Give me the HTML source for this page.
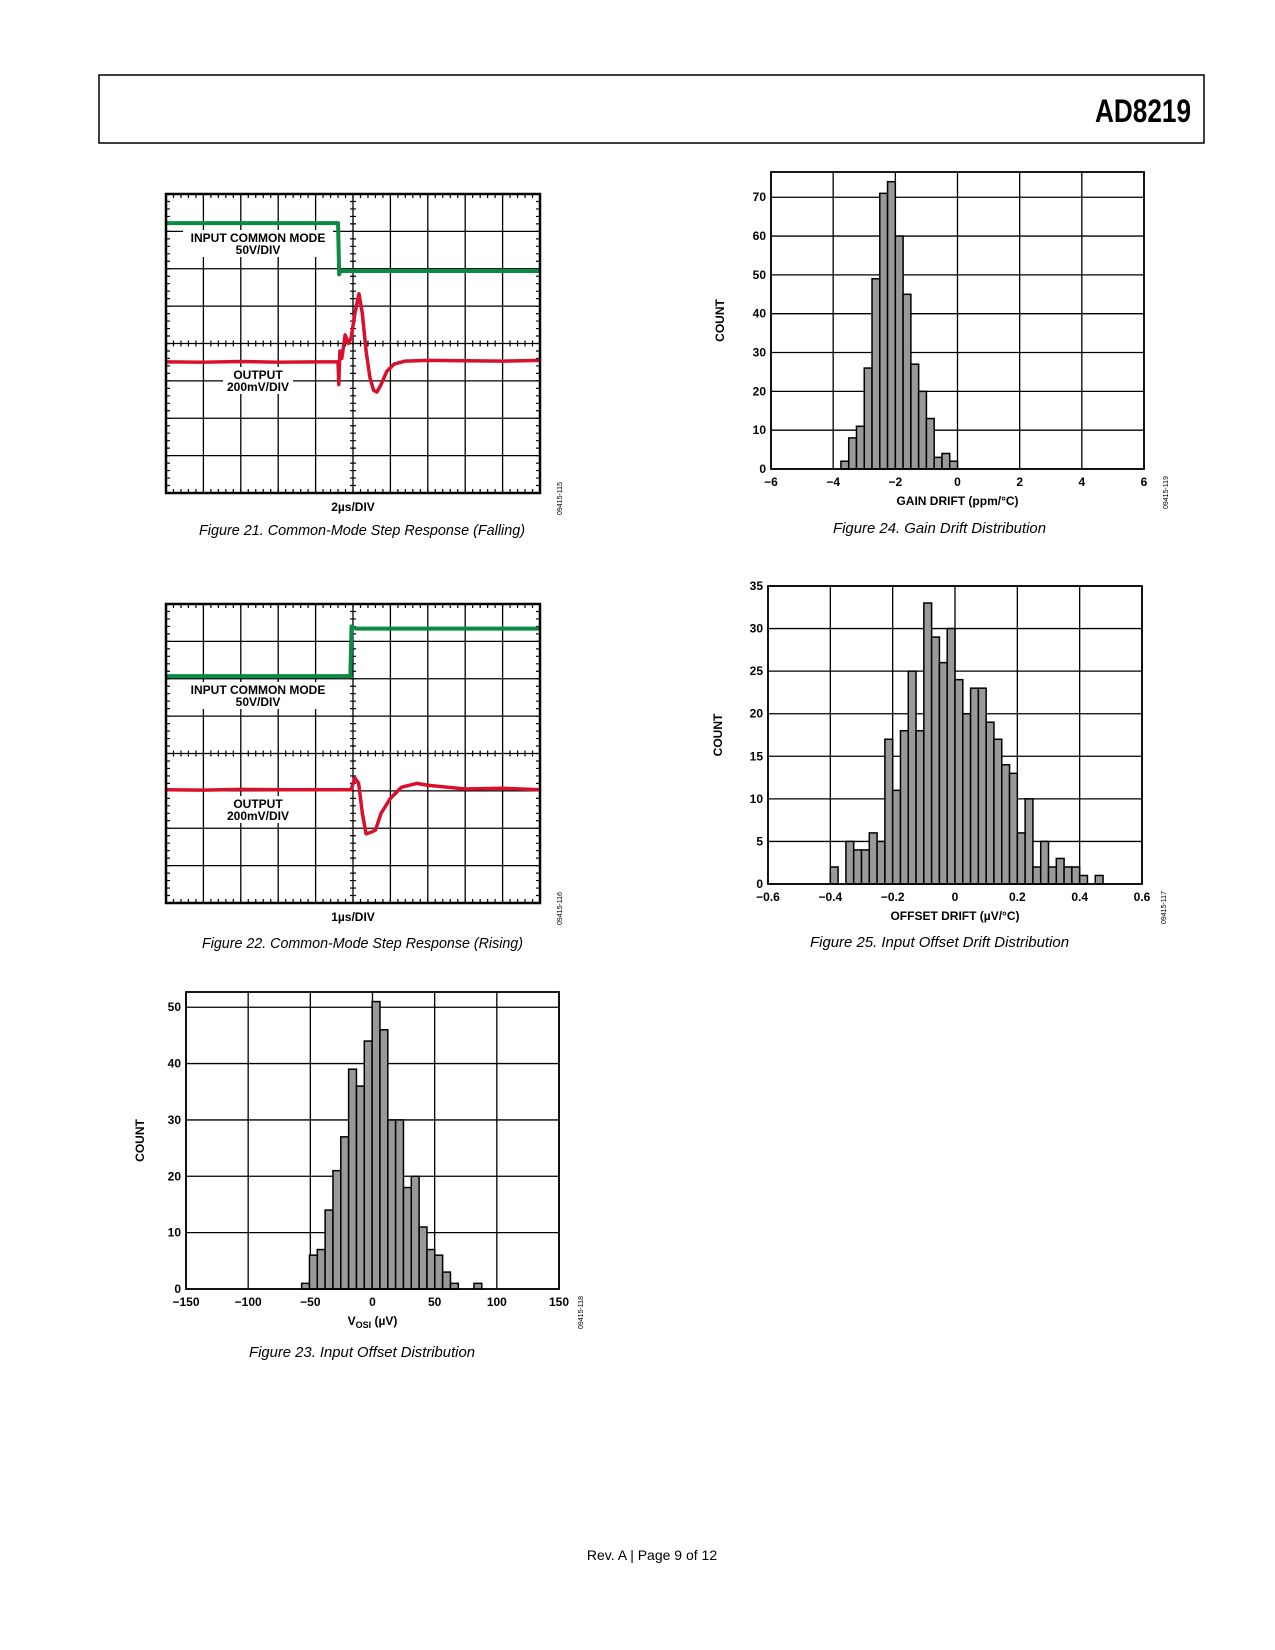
<!DOCTYPE html>
<html><head><meta charset="utf-8"><style>
body{margin:0;background:#fff;}
svg{display:block;font-family:"Liberation Sans",sans-serif;}
.tk{font-size:12px;font-weight:bold;}
.cap{font-size:15px;font-style:italic;}
</style></head><body>
<svg id="page" width="1275" height="1650" viewBox="0 0 1275 1650" xmlns="http://www.w3.org/2000/svg">
<rect x="99" y="75" width="1105" height="68" fill="none" stroke="#000" stroke-width="1.5"/>
<text x="1095" y="122" font-size="32" font-weight="bold" textLength="96" lengthAdjust="spacingAndGlyphs">AD8219</text>
<text x="652" y="1560" text-anchor="middle" font-size="14">Rev. A | Page 9 of 12</text>
<g id="charts"></g>
</svg>
<script>
// ---- Figure 24 data ----
const f24Bins = [-3.75,-3.5,-3.25,-3,-2.75,-2.5,-2.25,-2,-1.75,-1.5,-1.25,-1,-0.75,-0.5,-0.25];
const f24Counts = [2,8,11,26,49,71,74,60,45,27,20,13,3,4,2];
const f24XTicks = [-6,-4,-2,0,2,4,6];
const f24YTicks = [0,10,20,30,40,50,60,70];
// ---- Figure 25 data ----
const f25Bins = [-0.4,-0.375,-0.35,-0.325,-0.3,-0.275,-0.25,-0.225,-0.2,-0.175,-0.15,-0.125,-0.1,-0.075,-0.05,-0.025,0,0.025,0.05,0.075,0.1,0.125,0.15,0.175,0.2,0.225,0.25,0.275,0.3,0.325,0.35,0.375,0.4,0.425,0.45];
const f25Counts = [2,0,5,4,4,6,5,17,11,18,25,18,33,29,26,30,24,20,23,23,19,17,14,13,6,10,2,5,2,3,2,2,1,0,1];
const f25XTicks = [-0.6,-0.4,-0.2,0,0.2,0.4,0.6];
const f25YTicks = [0,5,10,15,20,25,30,35];
// ---- Figure 23 data ----
const f23Bins = [-57,-50.7,-44.4,-38.1,-31.8,-25.5,-19.2,-12.9,-6.6,-0.3,6,12.3,18.6,24.9,31.2,37.5,43.8,50.1,56.4,62.7,69,75.3,81.6];
const f23Counts = [1,6,7,14,21,27,39,36,44,51,46,30,30,18,20,11,7,6,3,1,0,0,1];
const f23XTicks = [-150,-100,-50,0,50,100,150];
const f23YTicks = [0,10,20,30,40,50];
// ---- Scope traces (x: divisions 0-10, y: divisions from top 0-8) ----
const f21GreenT = [0,4.6,4.63,4.66,4.75,10];
const f21GreenV = [0.78,0.78,2.15,2.06,2.06,2.06];
const f21RedT = [0,1,2,3,4,4.6,4.62,4.65,4.7,4.79,4.88,4.95,5.05,5.16,5.25,5.35,5.45,5.55,5.64,5.75,5.9,6.1,6.4,7,8,9,10];
const f21RedV = [4.49,4.5,4.48,4.5,4.49,4.49,5.1,4.2,4.4,3.77,4.0,3.85,3.2,2.67,3.2,4.2,4.9,5.25,5.3,5.1,4.75,4.55,4.47,4.45,4.46,4.47,4.45];
const f22GreenT = [0,4.93,4.96,5.0,5.1,10];
const f22GreenV = [1.93,1.93,0.6,0.64,0.66,0.66];
const f22RedT = [0,1,2,3,4,4.95,5.05,5.15,5.25,5.35,5.5,5.6,5.75,6.0,6.3,6.7,7,8,9,10];
const f22RedV = [4.97,4.98,4.96,4.97,4.97,4.97,4.65,4.8,5.6,6.15,6.1,6.05,5.6,5.2,4.9,4.8,4.85,4.95,4.93,4.97];

const NS='http://www.w3.org/2000/svg';
const root=document.getElementById('charts');
function mk(tag,attrs,parent,text){const e=document.createElementNS(NS,tag);for(const k in attrs)e.setAttribute(k,attrs[k]);if(text!==undefined)e.textContent=text;(parent||root).appendChild(e);return e;}
function fmt(v){return (v<0?'\u2212':'')+Math.abs(v);}

function histogram(o){
  const g=mk('g',{});
  
  
  const sx=v=>o.L+(v-o.xmin)/(o.xmax-o.xmin)*(o.R-o.L);
  const sy=v=>o.B-(v-0)/(o.ymax)*(o.B-o.T);
  o.yTicks.forEach(t=>{
    const l=mk('line',{x1:o.L,x2:o.R,y1:sy(t),y2:sy(t),stroke:'#000','stroke-width':1.3},g);
    
    
    const tx=mk('text',{x:o.L-5,y:sy(t)+4,'text-anchor':'end',class:'tk'},g,String(t));
    
    
  });
  o.xTicks.forEach(t=>{
    const l=mk('line',{x1:sx(t),x2:sx(t),y1:o.T,y2:o.B,stroke:'#000','stroke-width':1.3},g);
    
    
    const tx=mk('text',{x:sx(t),y:o.B+17,'text-anchor':'middle',class:'tk'},g,fmt(t));
    
    
  });
  o.bins.forEach((b,i)=>{
    if(!o.counts[i])return;
    const x0=sx(b),x1=sx(b+o.bw);
    const r=mk('rect',{x:x0,y:sy(o.counts[i]),width:x1-x0,height:o.B-sy(o.counts[i]),fill:'#999',stroke:'#000','stroke-width':1.5},g);
    
    
  });
  const f=mk('rect',{x:o.L,y:o.T,width:o.R-o.L,height:o.B-o.T,fill:'none',stroke:'#000','stroke-width':1.8},g);
  
  
  const yl=mk('text',{x:0,y:0,transform:`translate(${o.yLabX},${(o.T+o.B)/2}) rotate(-90)`,'text-anchor':'middle',class:'tk','font-size':13},g,'COUNT');
  
  
  const xl=mk('text',{x:(o.L+o.R)/2,y:o.B+36,'text-anchor':'middle',class:'tk'},g);
  
  
  xl.innerHTML=o.xTitle;
  const cd=mk('text',{x:0,y:0,transform:`translate(${o.R+24},${o.B+40}) rotate(-90)`,'font-size':7},g,o.code);
  
  
  const cp=mk('text',{x:o.capX,y:o.capY,class:'cap',textLength:o.capW,lengthAdjust:'spacingAndGlyphs'},g,o.caption);
  
  
}

histogram({name:'gain-drift-histogram',L:771,T:172,R:1144,B:469,xmin:-6,xmax:6,ymax:76.5,bins:f24Bins,counts:f24Counts,bw:0.25,xTicks:f24XTicks,yTicks:f24YTicks,yLabX:724,xTitle:'GAIN DRIFT (ppm/°C)',code:'09415-119',caption:'Figure 24. Gain Drift Distribution',capX:833,capW:213,capY:533});
histogram({name:'offset-drift-histogram',L:768,T:586,R:1142,B:884,xmin:-0.6,xmax:0.6,ymax:35,bins:f25Bins,counts:f25Counts,bw:0.025,xTicks:f25XTicks,yTicks:f25YTicks,yLabX:722,xTitle:'OFFSET DRIFT (µV/°C)',code:'09415-117',caption:'Figure 25. Input Offset Drift Distribution',capX:810,capW:259,capY:947});
histogram({name:'input-offset-histogram',L:186,T:992,R:559,B:1289,xmin:-150,xmax:150,ymax:52.7,bins:f23Bins,counts:f23Counts,bw:6.3,xTicks:f23XTicks,yTicks:f23YTicks,yLabX:144,xTitle:'V<tspan font-size="9" dy="3">OSI</tspan><tspan dy="-3"> (µV)</tspan>',code:'09415-118',caption:'Figure 23. Input Offset Distribution',capX:249,capW:226,capY:1357});

function scope(o){
  const g=mk('g',{});
  
  
  const W=o.R-o.L,H=o.B-o.T;
  const sx=v=>o.L+v/10*W, sy=v=>o.T+v/8*H;
  for(let i=1;i<10;i++){const l=mk('line',{x1:sx(i),x2:sx(i),y1:o.T,y2:o.B,stroke:'#000','stroke-width':1.3},g);}
  for(let j=1;j<8;j++){const l=mk('line',{x1:o.L,x2:o.R,y1:sy(j),y2:sy(j),stroke:'#000','stroke-width':1.3},g);}
  let d='';
  for(let i=0;i<=50;i++){const x=sx(i/5);d+=`M${x},${o.T}v4M${x},${o.B}v-4M${x},${sy(4)-3}v6`;}
  for(let j=0;j<=40;j++){const y=sy(j/5);d+=`M${o.L},${y}h4M${o.R},${y}h-4M${sx(5)-3},${y}h6`;}
  const tk=mk('path',{d:d,stroke:'#000','stroke-width':1.2},g);
  
  
  o.labels.forEach(lb=>{
    const bg=mk('rect',{x:lb.x-lb.w/2,y:lb.y-12,width:lb.w,height:27,fill:'#fff'},g);
    
    
    const t1=mk('text',{x:lb.x,y:lb.y,'text-anchor':'middle',class:'tk'},g,lb.a);
    
    
    const t2=mk('text',{x:lb.x,y:lb.y+12,'text-anchor':'middle',class:'tk'},g,lb.b);
    
    
  });
  const pg=mk('polyline',{points:o.gT.map((t,i)=>sx(t)+','+sy(o.gV[i])).join(' '),fill:'none',stroke:'#0a8a45','stroke-width':4,'stroke-linejoin':'round'},g);
  
  
  const pr=mk('polyline',{points:o.rT.map((t,i)=>sx(t)+','+sy(o.rV[i])).join(' '),fill:'none',stroke:'#d8102c','stroke-width':3.5,'stroke-linejoin':'round'},g);
  
  
  const f=mk('rect',{x:o.L,y:o.T,width:W,height:H,fill:'none',stroke:'#000','stroke-width':2.5},g);
  
  
  const tb=mk('text',{x:sx(5),y:o.B+18,'text-anchor':'middle',class:'tk'},g,o.tb);
  
  
  const cd=mk('text',{x:0,y:0,transform:`translate(${o.R+22},${o.B+22}) rotate(-90)`,'font-size':7},g,o.code);
  
  
  const cp=mk('text',{x:o.capX,y:o.capY,class:'cap',textLength:o.capW,lengthAdjust:'spacingAndGlyphs'},g,o.caption);
  
  
}
scope({name:'cm-step-falling-scope',L:166,T:194,R:540,B:493,gT:f21GreenT,gV:f21GreenV,rT:f21RedT,rV:f21RedV,
  labels:[{x:258,y:242,w:150,a:'INPUT COMMON MODE',b:'50V/DIV'},{x:258,y:379,w:70,a:'OUTPUT',b:'200mV/DIV'}],
  tb:'2µs/DIV',code:'09415-115',caption:'Figure 21. Common-Mode Step Response (Falling)',capX:199,capW:326,capY:535});
scope({name:'cm-step-rising-scope',L:166,T:604,R:540,B:903,gT:f22GreenT,gV:f22GreenV,rT:f22RedT,rV:f22RedV,
  labels:[{x:258,y:694,w:150,a:'INPUT COMMON MODE',b:'50V/DIV'},{x:258,y:808,w:70,a:'OUTPUT',b:'200mV/DIV'}],
  tb:'1µs/DIV',code:'09415-116',caption:'Figure 22. Common-Mode Step Response (Rising)',capX:202,capW:321,capY:948});
</script>
</body></html>
